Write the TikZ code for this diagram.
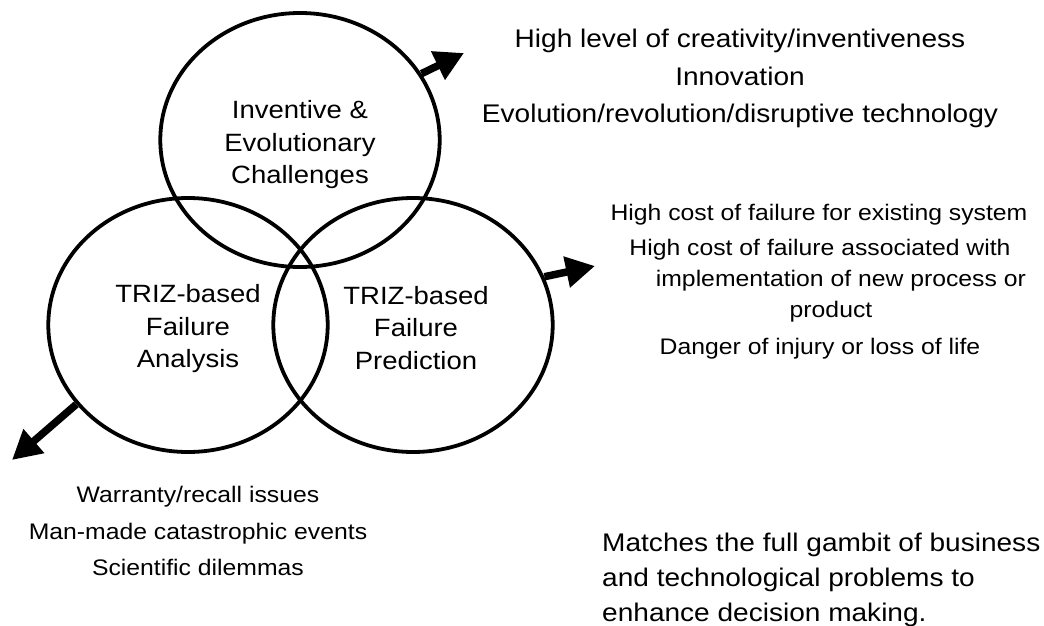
\documentclass[tikz,border=0pt]{standalone}
\usepackage{fontspec}
\setmainfont{Liberation Sans}
\usetikzlibrary{arrows.meta}
\begin{document}
\begin{tikzpicture}[x=1pt,y=-1pt,
  venn/.style={circle, draw, line width=3.8pt, minimum size=254pt, inner sep=0pt, xscale=1.1},
  vlabel/.style={xscale=1.1, inner sep=0pt, align=center, font=\fontsize{25}{32.5}\selectfont},
  txtA/.style={xscale=1.1, inner sep=0pt, anchor=base, font=\fontsize{25.5}{37}\selectfont},
  txtB/.style={xscale=1.1, inner sep=0pt, anchor=base, align=center, font=\fontsize{22.5}{31}\selectfont},
  txtC/.style={xscale=1.1, inner sep=0pt, anchor=base west, align=left, font=\fontsize{25.5}{35}\selectfont},
  bigarrow/.style={line width=7.5pt, -{Triangle[length=29pt,width=30pt]}}]
\fill[white] (0,0) rectangle (1044,626);
\useasboundingbox (0,0) rectangle (1044,626);

\node[venn] (top) at (300,140) {};
\node[venn] (left) at (188,325) {};
\node[venn] (right) at (413,325) {};
\node[vlabel] (topL) at ([yshift=-5pt]top.center) {Inventive \&\\Evolutionary\\Challenges};
\node[vlabel] (leftL) at ([yshift=-4pt]left.center) {TRIZ-based\\Failure\\Analysis};
\node[vlabel] (rightL) at ([xshift=3pt,yshift=-3pt]right.center) {TRIZ-based\\Failure\\Prediction};

\coordinate (tipA) at (464,53);
\coordinate (tipB) at (595,266);
\coordinate (tipC) at (12,460);
\draw[bigarrow] (top.31) -- (tipA);
\draw[bigarrow] (right.22) -- (tipB);
\draw[bigarrow] (left.218) -- (tipC);

\node[txtA] (hl1) at (740,48) {High level of creativity/inventiveness};
\node[txtA] (hl2) at (740,85) {Innovation};
\node[txtA] (hl3) at (740,122) {Evolution/revolution/disruptive technology};

\node[txtB] (r1) at (819,220) {High cost of failure for existing system};
\node[txtB] (r2) at (820,317) {High cost of failure associated with\\\hspace*{38pt}implementation of new process or\\\hspace*{20pt}product};
\node[txtB] (r3) at (820,354) {Danger of injury or loss of life};

\node[txtB] (b1) at (198,502) {Warranty/recall issues};
\node[txtB] (b2) at (198,539) {Man-made catastrophic events};
\node[txtB] (b3) at (198,575) {Scientific dilemmas};

\node[txtC] (m) at (602,621) {Matches the full gambit of business\\and technological problems to\\enhance decision making.};
\end{tikzpicture}
\end{document}
